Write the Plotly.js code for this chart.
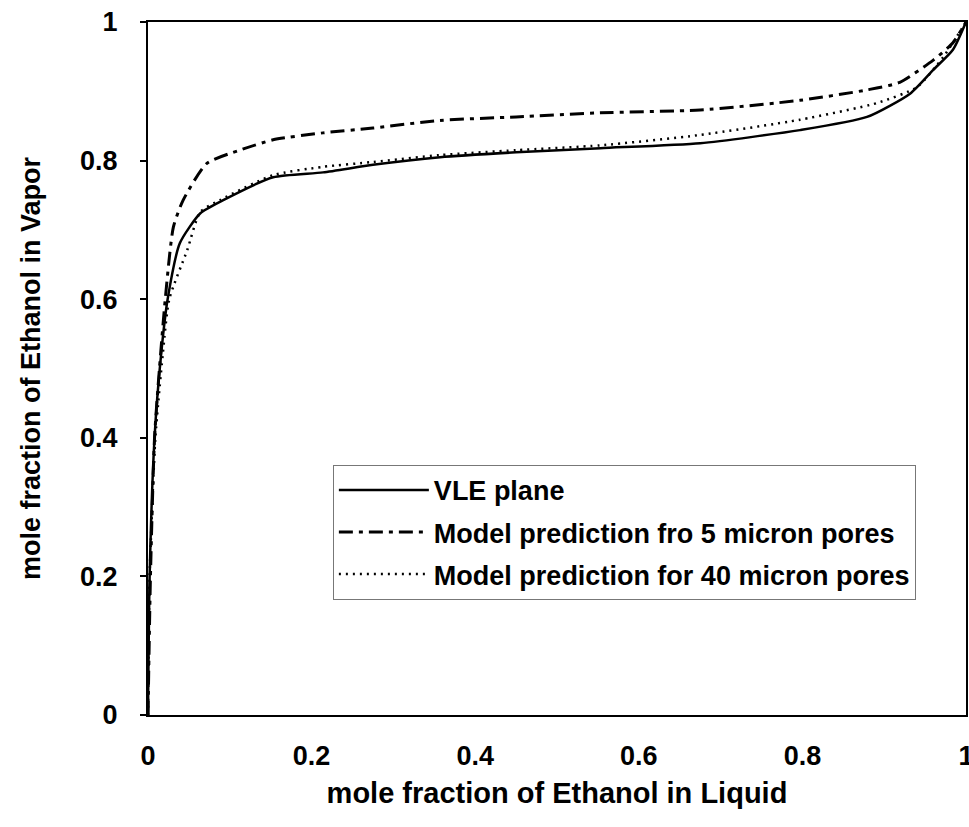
<!DOCTYPE html>
<html>
<head>
<meta charset="utf-8">
<script src="https://cdn.plot.ly/plotly-3.0.1.min.js"></script>
<style>html,body{margin:0;padding:0;background:#fff;}#chart{width:969px;height:827px;}</style>
</head>
<body>
<div id="chart"></div>
<script>
// VLE plane (solid)
const vleX = [0, 0.002, 0.008, 0.016, 0.024, 0.039, 0.064, 0.092, 0.153, 0.214, 0.275, 0.357, 0.45, 0.553, 0.675, 0.797, 0.879, 0.932, 0.96, 0.984, 1.0];
const vleY = [0, 0.2, 0.4, 0.52, 0.6, 0.681, 0.724, 0.743, 0.776, 0.783, 0.794, 0.805, 0.812, 0.818, 0.825, 0.844, 0.863, 0.897, 0.931, 0.96, 1.0];
// Model prediction 5 micron (dash-dot)
const m5X = [0, 0.003, 0.008, 0.014, 0.021, 0.031, 0.043, 0.072, 0.112, 0.153, 0.214, 0.275, 0.357, 0.45, 0.553, 0.675, 0.797, 0.879, 0.919, 0.96, 0.984, 1.0];
const m5Y = [0, 0.2, 0.4, 0.5, 0.599, 0.704, 0.743, 0.796, 0.815, 0.83, 0.84, 0.847, 0.858, 0.863, 0.869, 0.873, 0.887, 0.902, 0.913, 0.945, 0.97, 1.0];
// Model prediction 40 micron (dotted)
const m40X = [0, 0.002, 0.009, 0.018, 0.026, 0.048, 0.064, 0.088, 0.153, 0.214, 0.275, 0.357, 0.45, 0.553, 0.675, 0.797, 0.891, 0.94, 0.972, 1.0];
const m40Y = [0, 0.2, 0.4, 0.52, 0.6, 0.671, 0.726, 0.743, 0.779, 0.791, 0.798, 0.808, 0.815, 0.822, 0.837, 0.859, 0.883, 0.906, 0.949, 1.0];
const seriesNames = ['VLE plane', 'Model prediction fro 5 micron pores', 'Model prediction for 40 micron pores'];
const tickVals = [0, 0.2, 0.4, 0.6, 0.8, 1];
const tickText = ['0', '0.2', '0.4', '0.6', '0.8', '1'];

const font = 'Liberation Sans, Arial, sans-serif';
const traces = [
  {x: vleX, y: vleY, name: seriesNames[0], legendgroup: 'a', mode: 'lines', line: {color: '#000', width: 2.5, shape: 'spline', smoothing: 0.6}},
  {x: m5X, y: m5Y, name: seriesNames[1], legendgroup: 'b', mode: 'lines', line: {color: '#000', width: 3, dash: '14px,6px,4px,6px', shape: 'spline', smoothing: 0.6}},
  {x: m40X, y: m40Y, name: seriesNames[2], legendgroup: 'c', mode: 'lines', line: {color: '#000', width: 2.5, dash: '2px,5px', shape: 'spline', smoothing: 0.6}}
];
const layout = {
  width: 969, height: 827,
  margin: {l: 148, r: 3, t: 22, b: 112},
  paper_bgcolor: '#fff', plot_bgcolor: '#fff',
  font: {family: font, color: '#000', size: 27, weight: 'bold'},
  showlegend: true,
  legend: {
    x: 0.226, y: 0.361, xanchor: 'left', yanchor: 'top',
    bgcolor: 'rgba(255,255,255,0)', bordercolor: '#777', borderwidth: 1,
    font: {family: font, size: 27, color: '#000', weight: 'bold'},
    itemwidth: 90, tracegroupgap: 4
  },
  xaxis: {
    range: [0, 1], tickvals: tickVals, ticktext: tickText, ticks: '',
    showgrid: false, zeroline: false, showline: true, linecolor: '#000', linewidth: 2, mirror: true,
    ticklabelstandoff: 16, ticklabeloverflow: 'allow',
    tickfont: {family: font, size: 27, weight: 'bold'},
    title: {text: 'mole fraction of Ethanol in Liquid', font: {family: font, size: 29, weight: 'bold'}, standoff: 12}
  },
  yaxis: {
    range: [0, 1], tickvals: tickVals, ticktext: tickText, ticks: 'outside', ticklen: 6, tickwidth: 2, tickcolor: '#000',
    showgrid: false, zeroline: false, showline: true, linecolor: '#000', linewidth: 2, mirror: true,
    ticklabelstandoff: 17, ticklabeloverflow: 'allow',
    tickfont: {family: font, size: 27, weight: 'bold'},
    title: {text: 'mole fraction of Ethanol in Vapor', font: {family: font, size: 27, weight: 'bold'}, standoff: 32}
  }
};
Plotly.newPlot('chart', traces, layout, {staticPlot: true, displayModeBar: false});
</script>
</body>
</html>
